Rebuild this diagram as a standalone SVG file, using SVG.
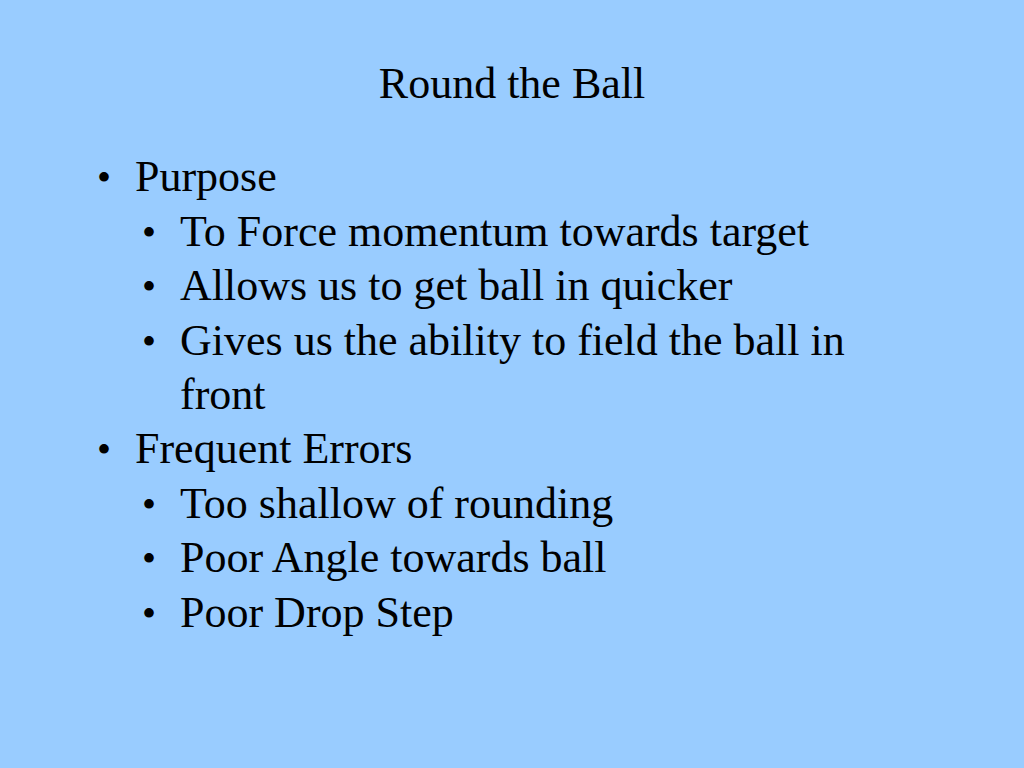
<svg xmlns="http://www.w3.org/2000/svg" width="1024" height="768" viewBox="0 0 1024 768">
<style>
text{font-family:"Liberation Serif","Times New Roman",serif;font-size:44px;fill:#000}
.b{font-size:40px}
</style>
<rect width="1024" height="768" fill="#99CCFF"/>
<text x="512" y="98" text-anchor="middle">Round the Ball</text>
<g id="list">
<text x="97" y="191" class="b">•</text><text x="135" y="191">Purpose</text>
<text x="142" y="246" class="b">•</text><text x="180" y="246">To Force momentum towards target</text>
<text x="142" y="300" class="b">•</text><text x="180" y="300">Allows us to get ball in quicker</text>
<text x="142" y="355" class="b">•</text><text x="180" y="355">Gives us the ability to field the ball in</text>
<text x="180" y="409">front</text>
<text x="97" y="463" class="b">•</text><text x="135" y="463">Frequent Errors</text>
<text x="142" y="518" class="b">•</text><text x="180" y="518">Too shallow of rounding</text>
<text x="142" y="572" class="b">•</text><text x="180" y="572">Poor Angle towards ball</text>
<text x="142" y="627" class="b">•</text><text x="180" y="627">Poor Drop Step</text>
</g>
</svg>
